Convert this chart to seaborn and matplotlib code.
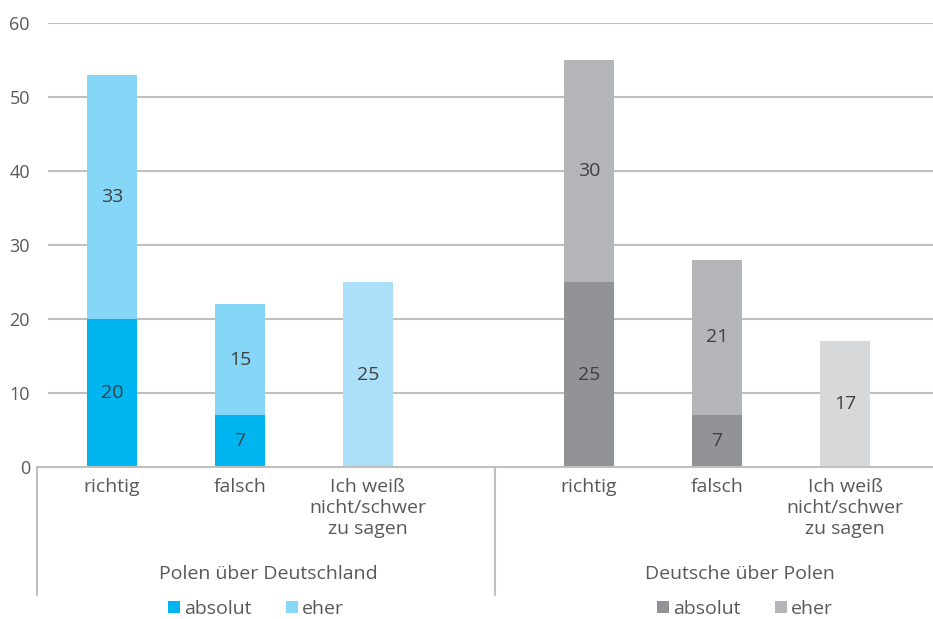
import matplotlib
matplotlib.use("Agg")
import matplotlib.pyplot as plt
import matplotlib.transforms as mtransforms
from matplotlib.patches import Patch
import seaborn as sns
import pandas as pd

# ---- data ----
groups = ["Polen über Deutschland", "Deutsche über Polen"]
categories = ["richtig", "falsch", "Ich weiß\nnicht/schwer\nzu sagen"]
absolut_pl = [20, 7, 0]
eher_pl = [33, 15, 25]
absolut_de = [25, 7, 0]
eher_de = [30, 21, 17]
legend_labels = ["absolut", "eher"]
y_ticks = [0, 10, 20, 30, 40, 50, 60]

# ---- layout/style ----
pos_pl = [0.0, 1.0, 2.0]
pos_de = [3.727, 4.727, 5.727]
group_label_x = [1.219, 4.906]
col_abs_pl, col_eher_pl, col_dk_pl = "#00B5EF", "#86D6F7", "#ABE0F8"
col_abs_de, col_eher_de, col_dk_de = "#929396", "#B4B5B8", "#D7D8DA"
txt_col = "#595959"
val_col = "#404040"
grid_col = "#BFBFBF"
font = "Open Sans"

sns.set_theme(style="white")
plt.rcParams["font.family"] = [font, "DejaVu Sans"]

fig = plt.figure(figsize=(9.33, 6.19), dpi=100)
ax = fig.add_axes([48/933, (619-467)/619, (933-48)/933, (467-23)/619])

rows = []
for g, pos, ab, eh in [(0, pos_pl, absolut_pl, eher_pl), (1, pos_de, absolut_de, eher_de)]:
    for i, c in enumerate(categories):
        rows.append(dict(group=g, cat=i, pos=pos[i], absolut=ab[i], eher=eh[i], total=ab[i] + eh[i]))
df = pd.DataFrame(rows)

top_colors = []
for r in rows:
    if r["group"] == 0:
        top_colors.append(col_dk_pl if r["cat"] == 2 else col_eher_pl)
    else:
        top_colors.append(col_dk_de if r["cat"] == 2 else col_eher_de)
abs_colors = [col_abs_pl if r["group"] == 0 else col_abs_de for r in rows]

# totals (eher segment on top) then absolut segment at the bottom
for j, r in enumerate(rows):
    sub = df.iloc[[j]]
    sns.barplot(data=sub, x="pos", y="total", native_scale=True, color=top_colors[j],
                width=0.39, saturation=1, ax=ax, errorbar=None, zorder=3, linewidth=0)
    if r["absolut"] > 0:
        sns.barplot(data=sub, x="pos", y="absolut", native_scale=True, color=abs_colors[j],
                    width=0.39, saturation=1, ax=ax, errorbar=None, zorder=4, linewidth=0)

# value labels
for r in rows:
    if r["absolut"] > 0:
        ax.text(r["pos"], r["absolut"] / 2, f"{int(r['absolut'])}", ha="center", va="center",
                fontsize=14, color=val_col, zorder=5)
    ax.text(r["pos"], r["absolut"] + r["eher"] / 2, f"{int(r['eher'])}", ha="center", va="center",
            fontsize=14, color=val_col, zorder=5)

ax.set_xlim(-0.5, (933 - 112) / 128)
ax.set_ylim(0, 60)
ax.set_yticks(y_ticks)
ax.set_yticklabels([str(t) for t in y_ticks], fontsize=13, color=txt_col)
ax.tick_params(axis="y", length=0, pad=13)
ax.set_xticks([])
ax.set_xlabel("")
ax.set_ylabel("")
for s in ax.spines.values():
    s.set_visible(False)
for t in y_ticks[1:]:
    ax.axhline(t, color=grid_col, lw=1.5, zorder=1)

trans = mtransforms.blended_transform_factory(ax.transData, ax.transAxes)
x_left = (37 - 112) / 128
x_sep = (495 - 112) / 128
y_bot = (467 - 595) / 444
# x-axis line
ax.plot([x_left, ax.get_xlim()[1]], [0, 0], color=grid_col, lw=1.5, clip_on=False, zorder=6)
# separators
for xs in [x_left, x_sep]:
    ax.plot([xs, xs], [0, y_bot], transform=trans, color=grid_col, lw=1.5, clip_on=False)

# category labels
for pos in [pos_pl, pos_de]:
    for i, c in enumerate(categories):
        ax.text(pos[i], -0.024, c, transform=trans, ha="center", va="top", fontsize=14,
                color=txt_col, linespacing=1.22, clip_on=False)
# group labels
for gx, g in zip(group_label_x, groups):
    ax.text(gx, (467 - 574) / 444, g, transform=trans,
            ha="center", va="center", fontsize=14, color=txt_col, clip_on=False)

# legends
for colors, cx in [((col_abs_pl, col_eher_pl), 256 / 933), ((col_abs_de, col_eher_de), 745 / 933)]:
    handles = [Patch(facecolor=colors[0], edgecolor="none"), Patch(facecolor=colors[1], edgecolor="none")]
    fig.legend(handles, legend_labels, loc="center", bbox_to_anchor=(cx, 1 - 609 / 619),
               ncol=2, frameon=False, fontsize=14, handlelength=0.6, handleheight=0.6,
               handletextpad=0.2, columnspacing=1.8, labelcolor=txt_col)

fig.savefig("out.png", dpi=100)
